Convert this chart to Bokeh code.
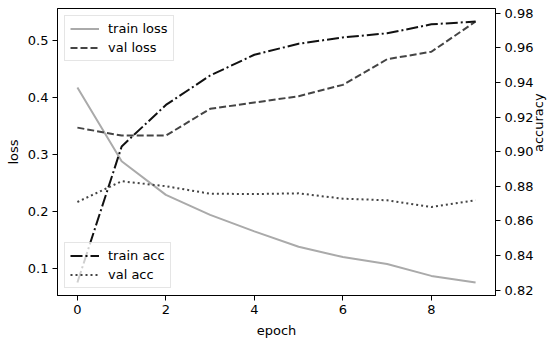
import math
from bokeh.plotting import figure
from bokeh.models import Range1d, LinearAxis, Legend, LegendItem, FixedTicker, NumeralTickFormatter
from bokeh.embed import file_html
from bokeh.resources import INLINE

epochs = [0, 1, 2, 3, 4, 5, 6, 7, 8, 9]
train_loss = [0.4175, 0.288, 0.229, 0.194, 0.165, 0.138, 0.120, 0.108, 0.087, 0.0755]
val_loss = [0.347, 0.333, 0.333, 0.380, 0.391, 0.402, 0.422, 0.467, 0.480, 0.533]
train_acc = [0.8244, 0.903, 0.927, 0.944, 0.956, 0.9624, 0.966, 0.9684, 0.9736, 0.9752]
val_acc = [0.8709, 0.8829, 0.880, 0.8757, 0.8755, 0.8759, 0.8728, 0.8719, 0.868, 0.8719]

x_ticks = [0, 2, 4, 6, 8]
loss_ticks = [0.1, 0.2, 0.3, 0.4, 0.5]
acc_ticks = [0.82, 0.84, 0.86, 0.88, 0.90, 0.92, 0.94, 0.96, 0.98]

FONT = "DejaVu Sans"
FS = "13px"


def padded(vals, frac=0.05):
    lo, hi = min(vals), max(vals)
    r = hi - lo
    return lo - frac * r, hi + frac * r


xlo, xhi = padded(epochs)
llo, lhi = padded(train_loss + val_loss)
alo, ahi = padded(train_acc + val_acc)

p = figure(width=556, height=340, output_backend="svg", toolbar_location=None,
           x_range=Range1d(xlo, xhi), y_range=Range1d(llo, lhi),
           min_border_left=57, min_border_right=57, min_border_top=8, min_border_bottom=44)
p.extra_y_ranges = {"acc": Range1d(alo, ahi)}

p.grid.visible = False
p.outline_line_color = "black"
p.outline_line_width = 1
p.background_fill_color = "white"
p.border_fill_color = "white"

r_tl = p.line(epochs, train_loss, line_color="#aaaaaa", line_width=2)
r_vl = p.line(epochs, val_loss, line_color="#444444", line_width=2, line_dash="7 3")
r_ta = p.line(epochs, train_acc, line_color="#111111", line_width=2, line_dash="12 3 2 3", y_range_name="acc")
r_va = p.line(epochs, val_acc, line_color="#444444", line_width=2, line_dash="2 3", y_range_name="acc")

right = LinearAxis(y_range_name="acc")
p.add_layout(right, "right")

p.xaxis.ticker = FixedTicker(ticks=x_ticks)
p.yaxis[0].ticker = FixedTicker(ticks=loss_ticks)
p.yaxis[0].formatter = NumeralTickFormatter(format="0.0")
right.ticker = FixedTicker(ticks=acc_ticks)
right.formatter = NumeralTickFormatter(format="0.00")

p.xaxis.axis_label = "epoch"
p.yaxis[0].axis_label = "loss"
right.axis_label = "accuracy"
right.axis_label_orientation = math.pi / 2

for ax in p.axis:
    ax.axis_line_color = "black"
    ax.major_tick_line_color = "black"
    ax.major_tick_out = 5
    ax.major_tick_in = 0
    ax.minor_tick_line_color = None
    ax.major_label_text_font = FONT
    ax.major_label_text_font_size = FS
    ax.major_label_text_color = "black"
    ax.axis_label_text_font = FONT
    ax.axis_label_text_font_size = FS
    ax.axis_label_text_font_style = "normal"
    ax.axis_label_text_color = "black"
    ax.major_label_standoff = 4
    ax.axis_label_standoff = 6
p.yaxis[0].axis_label_standoff = 4
right.axis_label_standoff = 2


def make_legend(items, loc):
    lg = Legend(items=items, location=loc)
    lg.margin = 7
    lg.padding = 5
    lg.spacing = 4
    lg.glyph_width = 29
    lg.glyph_height = 15
    lg.label_height = 15
    lg.label_standoff = 9
    lg.label_text_font = FONT
    lg.label_text_font_size = FS
    lg.label_text_color = "black"
    lg.border_line_color = "#cccccc"
    lg.border_line_width = 1
    lg.background_fill_color = "white"
    lg.background_fill_alpha = 0.8
    return lg


leg1 = make_legend([LegendItem(label="train loss", renderers=[r_tl]),
                    LegendItem(label="val loss", renderers=[r_vl])], "top_left")
leg2 = make_legend([LegendItem(label="train acc", renderers=[r_ta]),
                    LegendItem(label="val acc", renderers=[r_va])], "bottom_left")
p.add_layout(leg1, "center")
p.add_layout(leg2, "center")

open("out.html", "w").write(file_html(p, INLINE))
